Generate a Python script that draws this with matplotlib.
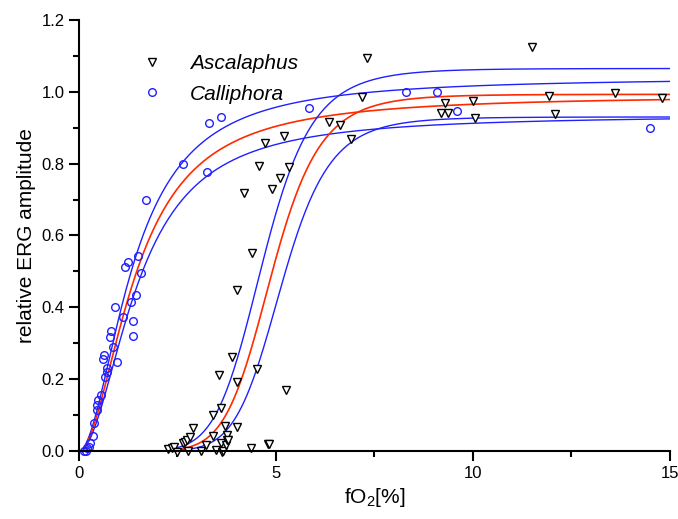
import numpy as np
import matplotlib
matplotlib.use('Agg')
import matplotlib.pyplot as plt
from matplotlib.ticker import MultipleLocator

plt.rcParams['font.family'] = ['Liberation Sans', 'DejaVu Sans']
plt.rcParams['mathtext.default'] = 'regular'

# Calliphora (blue circles)
calli_x = [0.12, 0.17, 0.20, 0.25, 0.28, 0.36, 0.38, 0.45, 0.465, 0.48, 0.55,
           0.60, 0.635, 0.65, 0.70, 0.72, 0.79, 0.82, 0.855, 0.906, 0.957,
           1.13, 1.16, 1.25, 1.33, 1.36, 1.38, 1.44, 1.51, 1.57, 1.71, 2.65,
           3.24, 3.30, 3.60, 5.85, 8.29, 9.10, 9.59, 14.49]
calli_y = [0.000, 0.001, 0.007, 0.012, 0.021, 0.042, 0.077, 0.114, 0.128, 0.142, 0.156,
           0.255, 0.266, 0.205, 0.230, 0.221, 0.318, 0.335, 0.290, 0.400, 0.248,
           0.372, 0.513, 0.526, 0.416, 0.320, 0.363, 0.433, 0.543, 0.496, 0.699, 0.799,
           0.776, 0.912, 0.929, 0.956, 0.999, 0.999, 0.947, 0.900]

# Ascalaphus (black triangles)
asca_x = [2.27, 2.35, 2.40, 2.48, 2.65, 2.69, 2.73, 2.77, 2.82, 2.90, 3.10, 3.22,
          3.41, 3.41, 3.49, 3.55, 3.60, 3.60, 3.62, 3.66, 3.71, 3.73, 3.75, 3.77,
          3.79, 3.89, 4.00, 4.01, 4.01, 4.20, 4.36, 4.40, 4.51, 4.56, 4.72, 4.79,
          4.82, 4.91, 5.10, 5.20, 5.25, 5.33, 6.34, 6.63, 6.90, 7.19, 7.30, 9.20,
          9.30, 9.37, 10.00, 10.06, 11.49, 11.94, 12.09, 13.60, 14.79]
asca_y = [0.006, 0.007, 0.012, -0.002, 0.021, 0.025, 0.031, 0.001, 0.038, 0.065, 0.001, 0.017,
          0.100, 0.042, 0.003, 0.212, 0.121, 0.023, -0.002, 0.000, 0.071, 0.017, 0.031, 0.045,
          0.032, 0.261, 0.068, 0.191, 0.448, 0.717, 0.007, 0.552, 0.228, 0.793, 0.858, 0.019,
          0.019, 0.729, 0.759, 0.877, 0.170, 0.790, 0.917, 0.908, 0.870, 0.986, 1.094, 0.940,
          0.970, 0.941, 0.974, 0.926, 1.124, 0.989, 0.938, 0.998, 0.982]

# Hill fits [Vmax, k, n] and confidence bands
calli_fit = [0.99, 1.45, 1.9]
calli_upper = [1.04, 1.38, 1.9]
calli_lower = [0.935, 1.50, 1.95]
asca_fit = [0.993, 4.90, 8.0]
asca_upper = [1.065, 4.68, 7.5]
asca_lower = [0.93, 5.15, 8.5]


def hill(x, p):
    vmax, k, n = p
    return vmax * x**n / (k**n + x**n)


fig = plt.figure(figsize=(6.78, 5.19), dpi=100)
ax = fig.add_axes([0.1165, 0.131, 0.8715, 0.8305])

xc = np.linspace(min(calli_x), 15, 400)
xa = np.linspace(min(asca_x), 15, 400)
for xx, fit, up, lo in [(xc, calli_fit, calli_upper, calli_lower),
                        (xa, asca_fit, asca_upper, asca_lower)]:
    ax.plot(xx, hill(xx, up), color='#1f1fff', lw=1.0)
    ax.plot(xx, hill(xx, lo), color='#1f1fff', lw=1.0)
    ax.plot(xx, hill(xx, fit), color='#ff2a00', lw=1.2)

ax.plot(asca_x, asca_y, 'v', ms=6, mfc='white', mec='black', mew=1.0,
        linestyle='none', label='Ascalaphus', clip_on=False)
ax.plot(calli_x, calli_y, 'o', ms=5.5, mfc='none', mec='#2020ff', mew=1.0,
        linestyle='none', label='Calliphora', clip_on=False)

ax.set_xlim(0, 15)
ax.set_ylim(0, 1.2)
ax.xaxis.set_major_locator(MultipleLocator(5))
ax.xaxis.set_minor_locator(MultipleLocator(2.5))
ax.yaxis.set_major_locator(MultipleLocator(0.2))
ax.yaxis.set_minor_locator(MultipleLocator(0.1))
ax.yaxis.set_major_formatter(plt.FuncFormatter(lambda v, p: f'{v:.1f}'))
ax.spines['top'].set_visible(False)
ax.spines['right'].set_visible(False)
for s in ['left', 'bottom']:
    ax.spines[s].set_linewidth(1.5)
ax.tick_params(which='major', direction='out', length=7, width=1.5, labelsize=12)
ax.tick_params(which='minor', direction='out', length=4, width=1.5)

ax.set_xlabel('fO$_2$[%]', fontsize=15)
ax.set_ylabel('relative ERG amplitude', fontsize=15)

ax.legend(loc='upper left', bbox_to_anchor=(0.075, 0.94), frameon=False,
          prop={'style': 'italic', 'size': 15}, handletextpad=0.8,
          labelspacing=0.55, borderaxespad=0)

fig.savefig('out.png', dpi=100)
